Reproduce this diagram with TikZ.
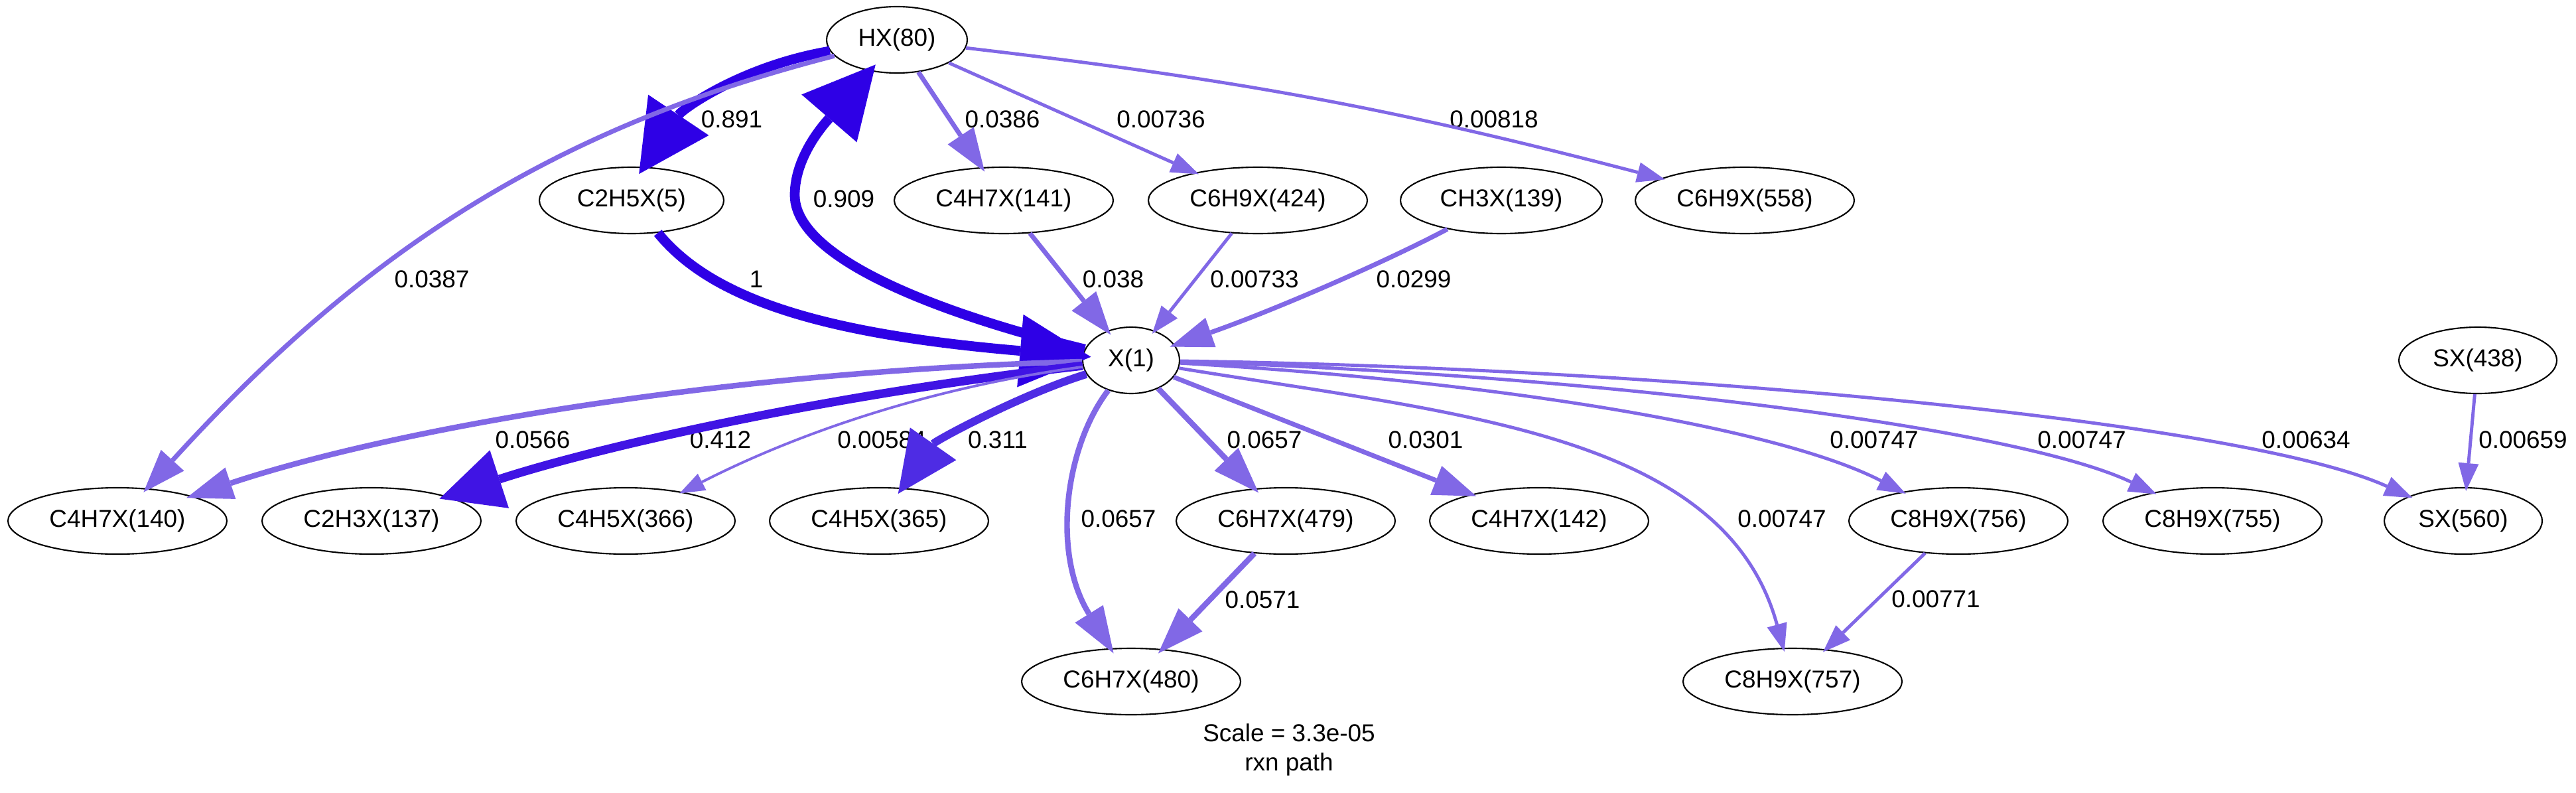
\documentclass[tikz,border=0pt]{standalone}
\usepackage{fontspec}
\setmainfont{Liberation Sans}
\usetikzlibrary{shapes.geometric,arrows.meta}

\definecolor{fluxdark}{RGB}{46,0,230}
\definecolor{fluxmid}{RGB}{64,20,228}
\definecolor{fluxsoft}{RGB}{78,44,228}
\definecolor{fluxlight}{RGB}{129,104,230}

\tikzset{
  species/.style={ellipse, draw, line width=0.6pt, fill=white, inner sep=0pt,
    minimum height=1cm, minimum width=3.3cm},
  rate/.style={inner sep=0pt},
  fluxA/.style={draw=fluxdark, line width=4.2pt, shorten >=-1.3mm,
    -{Triangle[length=1.07cm, width=1.1cm, line width=0pt]}},
  fluxB/.style={draw=fluxmid, line width=3.7pt, shorten >=-1.2mm,
    -{Triangle[length=0.95cm, width=0.92cm, line width=0pt]}},
  fluxC/.style={draw=fluxsoft, line width=3.4pt, shorten >=-1.1mm,
    -{Triangle[length=0.92cm, width=0.85cm, line width=0pt]}},
  fluxD/.style={draw=fluxlight, line width=2.4pt, shorten >=-0.9mm,
    -{Triangle[length=0.70cm, width=0.50cm, line width=0pt]}},
  fluxE/.style={draw=fluxlight, line width=2.0pt, shorten >=-0.8mm,
    -{Triangle[length=0.65cm, width=0.47cm, line width=0pt]}},
  fluxF/.style={draw=fluxlight, line width=1.4pt, shorten >=-0.6mm,
    -{Triangle[length=0.42cm, width=0.31cm, line width=0pt]}},
  fluxG/.style={draw=fluxlight, line width=1.1pt, shorten >=-0.5mm,
    -{Triangle[length=0.38cm, width=0.28cm, line width=0pt]}}
}

\begin{document}
\begin{tikzpicture}[font=\fontsize{10.5}{12.5}\selectfont]

  \useasboundingbox (0,0) rectangle (38.83,11.94);

  \node[species, minimum width=2.12cm] (hx80) at (13.52,11.34) {HX(80)};
  \node[species, minimum width=2.78cm] (c2h5x5) at (9.52,8.92) {C2H5X(5)};
  \node[species] (c4h7x141) at (15.13,8.92) {C4H7X(141)};
  \node[species] (c6h9x424) at (18.96,8.92) {C6H9X(424)};
  \node[species, minimum width=3.04cm] (ch3x139) at (22.63,8.92) {CH3X(139)};
  \node[species] (c6h9x558) at (26.30,8.92) {C6H9X(558)};
  \node[species, minimum width=1.46cm] (x1) at (17.05,6.51) {X(1)};
  \node[species, minimum width=2.38cm] (sx438) at (37.35,6.51) {SX(438)};

  \node[species] (c4h7x140) at (1.77,4.09) {C4H7X(140)};
  \node[species] (c2h3x137) at (5.60,4.09) {C2H3X(137)};
  \node[species] (c4h5x366) at (9.43,4.09) {C4H5X(366)};
  \node[species] (c4h5x365) at (13.25,4.09) {C4H5X(365)};
  \node[species] (c6h7x479) at (19.38,4.09) {C6H7X(479)};
  \node[species] (c4h7x142) at (23.20,4.09) {C4H7X(142)};
  \node[species] (c8h9x756) at (29.52,4.09) {C8H9X(756)};
  \node[species] (c8h9x755) at (33.35,4.09) {C8H9X(755)};
  \node[species, minimum width=2.38cm] (sx560) at (37.13,4.09) {SX(560)};

  \node[species] (c6h7x480) at (17.05,1.67) {C6H7X(480)};
  \node[species] (c8h9x757) at (27.02,1.67) {C8H9X(757)};

  \node[align=center, inner sep=0pt] (scale) at (19.43,0.64) {Scale = 3.3e-05\\rxn path};

  \node[rate] (r891) at (11.03,10.14) {0.891};
  \node[rate] (r909) at (12.72,8.94) {0.909};
  \node[rate] (r0387) at (6.51,7.73) {0.0387};
  \node[rate] (r1) at (11.40,7.73) {1};
  \node[rate] (r0386) at (15.11,10.14) {0.0386};
  \node[rate] (r00736) at (17.50,10.14) {0.00736};
  \node[rate] (r00818) at (22.52,10.14) {0.00818};
  \node[rate] (r038) at (16.78,7.73) {0.038};
  \node[rate] (r00733) at (18.91,7.73) {0.00733};
  \node[rate] (r0299) at (21.31,7.73) {0.0299};
  \node[rate] (r0566) at (8.03,5.31) {0.0566};
  \node[rate] (r412) at (10.86,5.31) {0.412};
  \node[rate] (r00584) at (13.29,5.31) {0.00584};
  \node[rate] (r311) at (15.04,5.31) {0.311};
  \node[rate] (r0657a) at (19.06,5.31) {0.0657};
  \node[rate] (r0301) at (21.49,5.31) {0.0301};
  \node[rate] (r0657b) at (16.86,4.12) {0.0657};
  \node[rate] (r0571) at (19.03,2.90) {0.0571};
  \node[rate] (r00747a) at (26.86,4.12) {0.00747};
  \node[rate] (r00747b) at (28.25,5.31) {0.00747};
  \node[rate] (r00747c) at (31.38,5.31) {0.00747};
  \node[rate] (r00634) at (34.76,5.31) {0.00634};
  \node[rate] (r00659) at (38.03,5.31) {0.00659};
  \node[rate] (r00771) at (29.18,2.91) {0.00771};

  \draw[fluxA] (hx80) .. controls (11.2,10.95) and (10.29,10.30) .. (c2h5x5.70);
  \draw[fluxA] (x1) .. controls (14.6,7.1) and (11.98,7.95) .. (11.98,9.0)
    .. controls (11.98,9.6) and (12.45,10.1) .. (hx80);
  \draw[fluxA] (c2h5x5) .. controls (10.75,7.4) and (12.5,6.9) .. (x1);

  \draw[fluxE] (hx80) .. controls (8.5,10.05) and (5.6,8.3) .. (c4h7x140);
  \draw[fluxE] (hx80) -- (c4h7x141);
  \draw[fluxF] (hx80) -- (c6h9x424);
  \draw[fluxF] (hx80) to[bend left=4] (c6h9x558);

  \draw[fluxE] (c4h7x141) -- (x1);
  \draw[fluxF] (c6h9x424) -- (x1);
  \draw[fluxE] (ch3x139) .. controls (20.9,8.0) and (19.22,7.27) .. (x1);

  \draw[fluxD] (x1) .. controls (11.0,6.35) and (6.0,5.5) .. (c4h7x140);
  \draw[fluxB] (x1) .. controls (12.5,6.0) and (9.0,5.2) .. (c2h3x137);
  \draw[fluxG] (x1) .. controls (14.0,6.1) and (12.0,5.4) .. (c4h5x366);
  \draw[fluxC] (x1) .. controls (15.4,6.0) and (14.1,5.3) .. (c4h5x365);
  \draw[fluxD] (x1) .. controls (16.05,5.2) and (15.85,3.6) .. (c6h7x480);
  \draw[fluxD] (x1) -- (c6h7x479);
  \draw[fluxE] (x1) -- (c4h7x142);
  \draw[fluxF] (x1) .. controls (22.0,5.7) and (26.0,5.4) .. (c8h9x757);
  \draw[fluxF] (x1) .. controls (22.5,6.2) and (26.8,5.5) .. (c8h9x756);
  \draw[fluxF] (x1) .. controls (24.0,6.3) and (30.4,5.5) .. (c8h9x755);
  \draw[fluxF] (x1) .. controls (25.0,6.4) and (33.8,5.6) .. (sx560);

  \draw[fluxF] (sx438) -- (sx560);
  \draw[fluxD] (c6h7x479) -- (c6h7x480);
  \draw[fluxF] (c8h9x756) -- (c8h9x757);

\end{tikzpicture}
\end{document}
